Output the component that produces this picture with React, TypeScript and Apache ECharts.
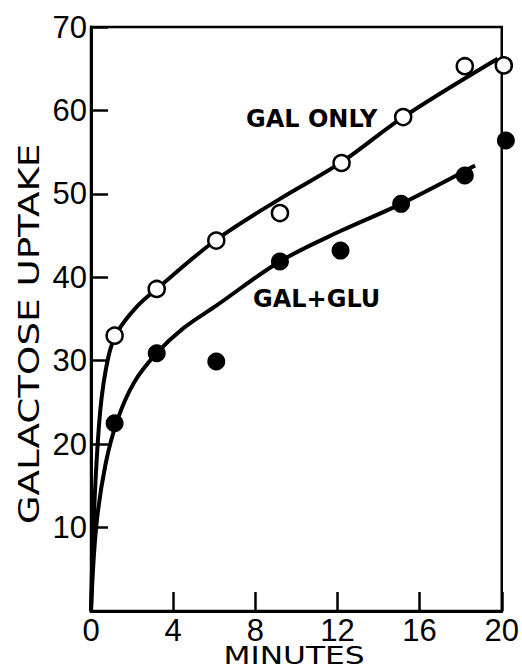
import React, { useEffect, useRef } from "react";
import * as echarts from "echarts";

const xTicks = [0, 4, 8, 12, 16, 20];
const yTicks = [10, 20, 30, 40, 50, 60, 70];

// Measured points (minutes, uptake)
const galOnlyPts: [number, number][] = [
  [1.15, 33.0], [3.2, 38.6], [6.1, 44.4], [9.2, 47.7], [12.2, 53.7], [15.2, 59.2], [18.2, 65.3], [20.1, 65.4],
];
const galGluPts: [number, number][] = [
  [1.15, 22.5], [3.2, 30.9], [6.1, 29.9], [9.2, 41.9], [12.15, 43.2], [15.1, 48.8], [18.2, 52.2], [20.2, 56.4],
];

// Points
const galOnlyCurve: [number, number][] = [
  [0, 0], [0.15, 12], [0.45, 24], [0.85, 30.5], [1.3, 33.5], [2.2, 36.4], [3.2, 38.6], [6.1, 44.5],
  [9.2, 49.4], [12.2, 53.8], [15.2, 59.2], [19.8, 66.2],
];
const galGluCurve: [number, number][] = [
  [0, 0], [0.25, 10], [0.7, 17.5], [1.3, 23], [2.1, 27.4], [3.2, 30.9], [4.5, 33.9],
  [6.1, 36.6], [9.2, 41.9], [12.2, 45.6], [15.1, 48.8], [18.7, 53.4],
];

export default function App() {
  const ref = useRef<HTMLDivElement>(null);
  useEffect(() => {
    const chart = echarts.init(ref.current!, undefined, { renderer: "svg" });
    const black = "#000";
    chart.setOption({
      animation: false,
      backgroundColor: "#fff",
      grid: { left: 91, right: 14, top: 27, bottom: 61, show: true, borderColor: black, borderWidth: 2.5 },
      xAxis: {
        type: "value",
        min: xTicks[0],
        max: xTicks[xTicks.length - 1],
        interval: 4,
        splitLine: { show: false },
        axisLine: { show: true, lineStyle: { color: black, width: 3 } },
        axisTick: { show: true, inside: true, length: 19, lineStyle: { color: black, width: 2.5 } },
        axisLabel: {
          color: black,
          fontFamily: "Liberation Sans",
          fontSize: 31,
          margin: 4,
          formatter: (v: number) => (xTicks.includes(v) ? String(v) : ""),
        },
      },
      yAxis: {
        type: "value",
        min: 0,
        max: 70,
        interval: 10,
        splitLine: { show: false },
        axisLine: { show: true, lineStyle: { color: black, width: 3 } },
        axisTick: { show: true, inside: true, length: 17, lineStyle: { color: black, width: 2.5 } },
        axisLabel: {
          color: black,
          fontFamily: "Liberation Sans",
          fontSize: 31,
          margin: 4,
          formatter: (v: number) => (yTicks.includes(v) ? String(v) : ""),
        },
      },
      series: [
        {
          type: "line",
          data: galOnlyCurve,
          smooth: 0.35,
          showSymbol: false,
          lineStyle: { color: black, width: 4 },
          z: 2,
        },
        {
          type: "line",
          data: galGluCurve,
          smooth: 0.35,
          showSymbol: false,
          lineStyle: { color: black, width: 4 },
          z: 2,
        },
        {
          type: "scatter",
          data: galOnlyPts,
          symbol: "circle",
          symbolSize: 16,
          clip: false,
          itemStyle: { color: "#fff", borderColor: black, borderWidth: 2.5, opacity: 1 },
          z: 5,
        },
        {
          type: "scatter",
          data: galGluPts,
          symbol: "circle",
          symbolSize: 18,
          clip: false,
          itemStyle: { color: black, opacity: 1 },
          z: 5,
        },
      ],
      graphic: [
        {
          type: "text",
          x: 29,
          y: 334,
          rotation: Math.PI / 2,
          scaleX: 1.33,
          style: {
            text: "GALACTOSE UPTAKE",
            fontFamily: "DejaVu Sans",
            fontSize: 28,
            fill: black,
            align: "center",
            verticalAlign: "middle",
          },
        },
        {
          type: "text",
          x: 294,
          y: 656,
          scaleX: 1.25,
          style: {
            text: "MINUTES",
            fontFamily: "DejaVu Sans",
            fontSize: 25,
            fill: black,
            align: "center",
            verticalAlign: "middle",
          },
        },
        {
          type: "text",
          x: 246,
          y: 119,
          style: {
            text: "GAL ONLY",
            fontFamily: "DejaVu Sans",
            fontWeight: "bold",
            fontSize: 24,
            fill: black,
            align: "left",
            verticalAlign: "middle",
          },
        },
        {
          type: "text",
          x: 253,
          y: 299,
          style: {
            text: "GAL+GLU",
            fontFamily: "DejaVu Sans",
            fontWeight: "bold",
            fontSize: 24,
            fill: black,
            align: "left",
            verticalAlign: "middle",
          },
        },
      ],
    });
    return () => chart.dispose();
  }, []);
  return <div ref={ref} style={{ position: "fixed", left: 0, top: 0, width: 522, height: 672 }} />;
}
